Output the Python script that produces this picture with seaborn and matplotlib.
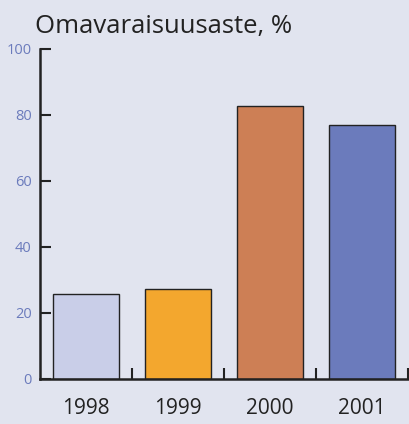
import pandas as pd
import seaborn as sns
import matplotlib.pyplot as plt
from matplotlib.ticker import FixedLocator

years = ['1998', '1999', '2000', '2001']
values = [25.8, 27.3, 82.7, 77.0]
colors = ['#C9CEE8', '#F3A72E', '#CD7F55', '#6B7BBC']

df = pd.DataFrame({'year': years, 'value': values})

bg = '#E1E4EF'
sns.set_style('white')
plt.rcParams['font.family'] = ['Open Sans', 'DejaVu Sans']

fig = plt.figure(figsize=(4.09, 4.24), dpi=100, facecolor=bg)
ax = fig.add_axes([40 / 409, 45 / 424, 368 / 409, 330 / 424])
ax.set_facecolor(bg)

sns.barplot(data=df, x='year', y='value', hue='year', palette=colors, saturation=1,
            width=0.72, edgecolor='#222222', linewidth=1.0, legend=False, ax=ax)

ax.set_xlim(-0.5, 3.5)
ax.set_ylim(0, 100)
ax.set_yticks([0, 20, 40, 60, 80, 100])
ax.tick_params(axis='y', left=True, direction='in', length=8, width=1.5, color='#222222',
               labelcolor='#6B7BBC', labelsize=10.5, pad=6)
ax.tick_params(axis='x', which='major', bottom=False, length=0, labelsize=15, pad=14,
               labelcolor='#222222')
ax.xaxis.set_minor_locator(FixedLocator([0.5, 1.5, 2.5, 3.5]))
ax.tick_params(axis='x', which='minor', bottom=True, direction='in', length=8, width=1.5,
               color='#222222')
ax.set_xlabel('')
ax.set_ylabel('')

for s in ['top', 'right']:
    ax.spines[s].set_visible(False)
for s in ['left', 'bottom']:
    ax.spines[s].set_color('#222222')
    ax.spines[s].set_linewidth(1.8)

fig.text(35 / 409, 1 - 33 / 424, 'Omavaraisuusaste, %', fontsize=18.5, color='#222222',
         ha='left', va='baseline')

fig.savefig('out.png', dpi=100, facecolor=bg)
